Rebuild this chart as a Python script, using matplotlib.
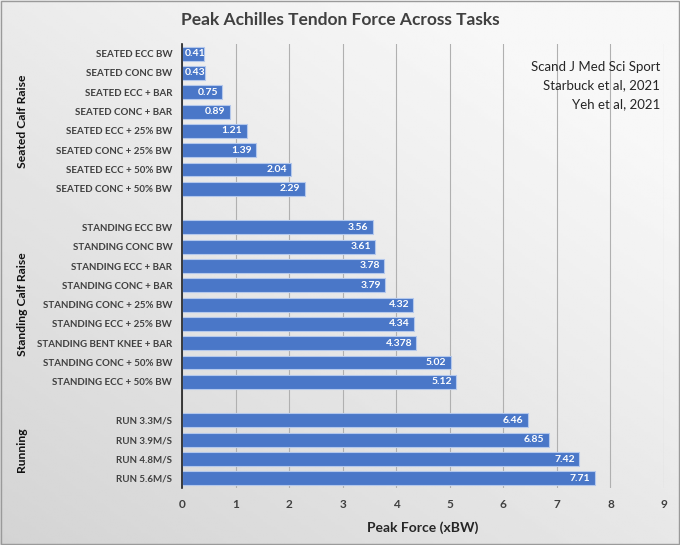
import matplotlib
matplotlib.use("Agg")
import matplotlib.pyplot as plt
import numpy as np
from matplotlib.patches import Rectangle

plt.rcParams['font.family'] = ['Lato', 'DejaVu Sans']

# 数据
seated_labels = ['SEATED ECC BW', 'SEATED CONC BW', 'SEATED ECC + BAR', 'SEATED CONC + BAR',
                 'SEATED ECC + 25% BW', 'SEATED CONC + 25% BW', 'SEATED ECC + 50% BW',
                 'SEATED CONC + 50% BW']
seated_values = [0.41, 0.43, 0.75, 0.89, 1.21, 1.39, 2.04, 2.29]

standing_labels = ['STANDING ECC BW', 'STANDING CONC BW', 'STANDING ECC + BAR',
                   'STANDING CONC + BAR', 'STANDING CONC + 25% BW', 'STANDING ECC + 25% BW',
                   'STANDING BENT KNEE + BAR', 'STANDING CONC + 50% BW', 'STANDING ECC + 50% BW']
standing_values = [3.56, 3.61, 3.78, 3.79, 4.32, 4.34, 4.378, 5.02, 5.12]

running_labels = ['RUN 3.3M/S', 'RUN 3.9M/S', 'RUN 4.8M/S', 'RUN 5.6M/S']
running_values = [6.46, 6.85, 7.42, 7.71]

group_names = ['Seated Calf Raise', 'Standing Calf Raise', 'Running']
x_ticks = list(range(10))
note_lines = ['Scand J Med Sci Sport', 'Starbuck et al, 2021', 'Yeh et al, 2021']

# 组合行（组之间空一行）
groups = [(seated_labels, seated_values), (standing_labels, standing_values),
          (running_labels, running_values)]
labels, values, positions, group_centers = [], [], [], []
row = 0
for lab, val in groups:
    start = row
    for l, v in zip(lab, val):
        labels.append(l)
        values.append(v)
        positions.append(row)
        row += 1
    group_centers.append((start + row - 1) / 2)
    row += 1
last_row = positions[-1]

W, H = 680, 545
fig = plt.figure(figsize=(W / 100, H / 100), dpi=100)

# 背景渐变
bg = fig.add_axes([0, 0, 1, 1], zorder=-10)
xx, yy = np.meshgrid(np.linspace(0, 1, 200), np.linspace(0, 1, 200))
shade = 0.83 + 0.14 * np.clip(0.55 * xx + 0.65 * (1 - yy), 0, 1)
bg.imshow(shade, cmap='gray', vmin=0, vmax=1, aspect='auto', extent=[0, 1, 0, 1])
bg.add_patch(Rectangle((0.001, 0.001), 0.998, 0.998, fill=False, ec='#9a9a9a', lw=1,
                       transform=bg.transAxes))
bg.axis('off')

ax = fig.add_axes([182 / W, 1 - 488 / H, (664 - 182) / W, (488 - 44) / H])
ax.set_facecolor('none')

ax.barh(positions, values, height=0.72, color='#4a77c8', edgecolor='#b4c8ec',
        linewidth=0.8, zorder=3)
for p, v in zip(positions, values):
    ax.text(max(v - 0.08, 0.43), p, f'{v:g}', ha='right', va='center', color='white',
            fontsize=7.5, fontweight='bold', zorder=4)

ax.set_ylim(last_row + 0.5, -0.5)
ax.set_xlim(0, 9)
ax.set_yticks(positions)
ax.set_yticklabels(labels, fontsize=7.0, fontweight='bold', color='#404040')
ax.set_xticks(x_ticks)
ax.set_xticklabels([str(t) for t in x_ticks], fontsize=8.5, fontweight='bold', color='#404040')
ax.tick_params(axis='both', length=0)
ax.tick_params(axis='x', pad=8)
ax.tick_params(axis='y', pad=7)

ax.grid(axis='x', color='#b0b0b0', linewidth=0.8, zorder=0)
for s in ['top', 'right', 'bottom']:
    ax.spines[s].set_visible(False)
ax.spines['left'].set_color('#202020')
ax.spines['left'].set_linewidth(1.2)
ax.spines['left'].set_zorder(5)

ax.set_xlabel('Peak Force (xBW)', fontsize=10, fontweight='bold', color='#262626', labelpad=8)

for name, c in zip(group_names, group_centers):
    y_disp = ax.transData.transform((0, c))[1]
    fig.text(22 / W, y_disp / (H), name, rotation=90, ha='center', va='center',
             fontsize=8.7, fontweight='bold', color='#111111')

for i, line in enumerate(note_lines):
    fig.text(660 / W, 1 - (67 + i * 18.5) / H, line, ha='right', va='center',
             fontsize=9.5, color='#262626')

fig.text(340 / W, 1 - 20 / H, 'Peak Achilles Tendon Force Across Tasks', ha='center',
         va='center', fontsize=12.5, fontweight='bold', color='#404040')

fig.savefig('out.png', dpi=100)
